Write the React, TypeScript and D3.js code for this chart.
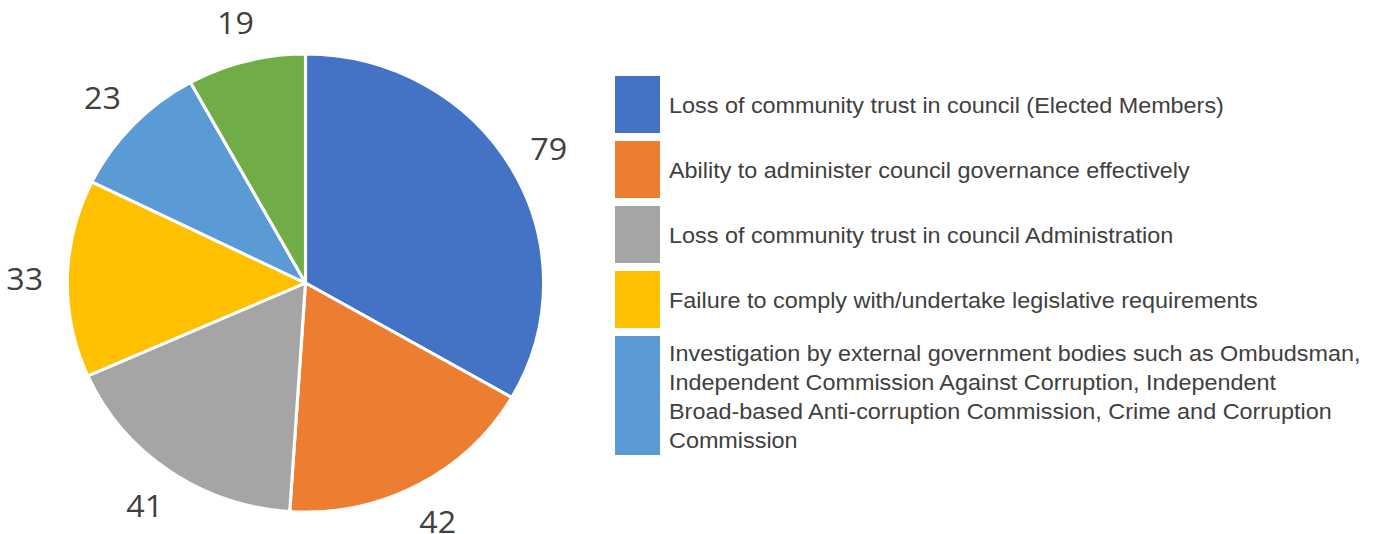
import React from "react";
import * as d3 from "d3";

// Slice values, clockwise from 12 o'clock
const values = [79, 42, 41, 33, 23, 19];
const sliceColors = ["#4472C4", "#ED7D31", "#A5A5A5", "#FFC000", "#5B9BD5", "#70AD47"];

// Legend entries (one list of lines per entry)
const legendLabels: string[][] = [
  ["Loss of community trust in council (Elected Members)"],
  ["Ability to administer council governance effectively"],
  ["Loss of community trust in council Administration"],
  ["Failure to comply with/undertake legislative requirements"],
  [
    "Investigation by external government bodies such as Ombudsman,",
    "Independent Commission Against Corruption, Independent",
    "Broad-based Anti-corruption Commission, Crime and Corruption",
    "Commission",
  ],
];

const W = 1375;
const H = 534;
const cx = 305.5;
const cy = 283;
const radius = 229;
const labelRadius = 270;
// the chart is drawn slightly wider than tall
const sx = 1.04;

export default function App() {
  const pie = d3.pie<number>().sort(null).value((d) => d);
  const arcs = pie(values);
  const arcGen = d3.arc<d3.PieArcDatum<number>>().innerRadius(0).outerRadius(radius);
  const labelArc = d3
    .arc<d3.PieArcDatum<number>>()
    .innerRadius(labelRadius)
    .outerRadius(labelRadius);

  // legend layout
  const legendX = 615;
  const boxW = 45;
  const lineH = 29;
  const gap = 8;
  let yCursor = 76;
  const legendItems = legendLabels.map((lines, i) => {
    const h = Math.max(57, lines.length * lineH + 3);
    const item = { lines, top: yCursor, h, color: sliceColors[i] };
    yCursor += h + gap;
    return item;
  });

  return (
    <svg
      width={W}
      height={H}
      style={{ position: "absolute", left: 0, top: 0, background: "#fff" }}
    >
      <g transform={`translate(${cx},${cy}) scale(${sx},1)`}>
        {arcs.map((a, i) => (
          <path
            key={i}
            d={arcGen(a) || ""}
            fill={sliceColors[i]}
            stroke="#fff"
            strokeWidth={3}
            strokeLinejoin="round"
          />
        ))}
      </g>
      <g transform={`translate(${cx},${cy})`}>
        {arcs.map((a, i) => {
          const [x, y] = labelArc.centroid(a);
          return (
            <text
              key={i}
              transform={`translate(${x * sx},${y}) scale(${sx},1)`}
              textAnchor="middle"
              dominantBaseline="central"
              fontFamily="'Open Sans', sans-serif"
              fontSize={31}
              fill="#404040"
            >
              {a.data}
            </text>
          );
        })}
      </g>
      <g>
        {legendItems.map((it, i) => {
          const mid = it.top + it.h / 2 + 1;
          const first = mid - ((it.lines.length - 1) * lineH) / 2;
          return (
            <g key={i}>
              <rect x={legendX} y={it.top} width={boxW} height={it.h} fill={it.color} />
              {it.lines.map((ln, j) => (
                <text
                  key={j}
                  transform={`translate(669,${first + j * lineH}) scale(${sx},1)`}
                  dominantBaseline="central"
                  fontFamily="'Liberation Sans', Arial, sans-serif"
                  fontSize={22.5}
                  fill="#404040"
                >
                  {ln}
                </text>
              ))}
            </g>
          );
        })}
      </g>
    </svg>
  );
}
